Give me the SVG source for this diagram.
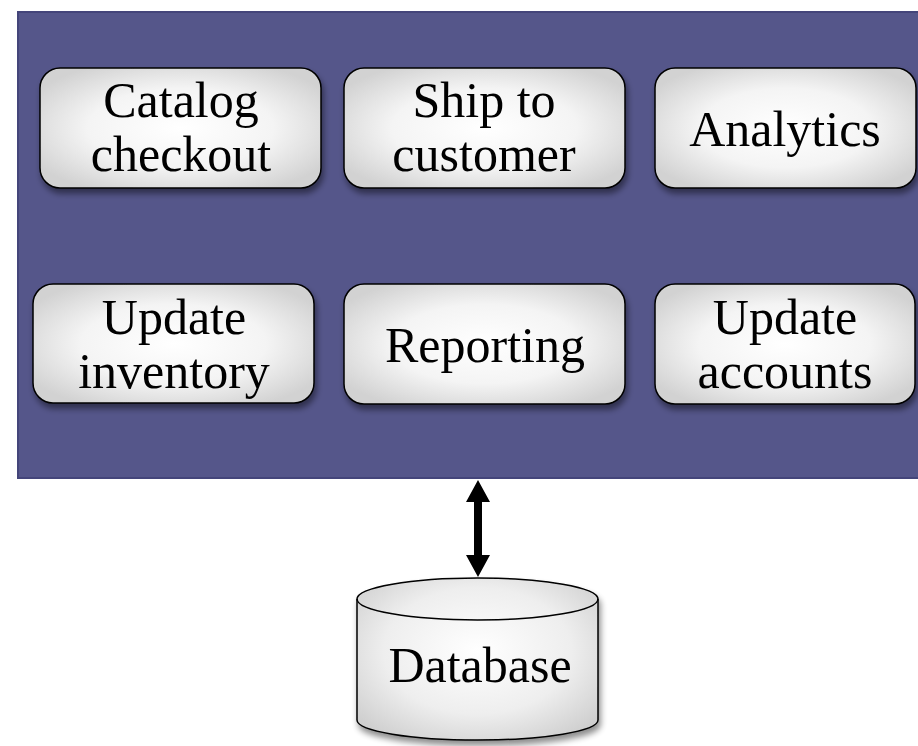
<svg xmlns="http://www.w3.org/2000/svg" width="918" height="746" viewBox="0 0 918 746">
<defs>
  <radialGradient id="boxGrad" cx="50%" cy="50%" r="60%">
    <stop offset="0" stop-color="#ffffff"/>
    <stop offset="0.55" stop-color="#f4f4f4"/>
    <stop offset="1" stop-color="#d2d2d2"/>
  </radialGradient>
  <radialGradient id="cylGrad" cx="50%" cy="45%" r="65%">
    <stop offset="0" stop-color="#ffffff"/>
    <stop offset="0.6" stop-color="#eeeeee"/>
    <stop offset="1" stop-color="#cfcfcf"/>
  </radialGradient>
  <filter id="shadow" x="-10%" y="-10%" width="125%" height="135%">
    <feGaussianBlur in="SourceAlpha" stdDeviation="3"/>
    <feOffset dx="2" dy="5" result="b"/>
    <feComponentTransfer><feFuncA type="linear" slope="0.45"/></feComponentTransfer>
    <feMerge><feMergeNode/><feMergeNode in="SourceGraphic"/></feMerge>
  </filter>
</defs>
<style>
  .box { fill: url(#boxGrad); stroke: #000; stroke-width: 1.5; }
  .lbl { font-family: "Liberation Serif", "Times New Roman", serif; font-size: 50px; fill: #000; text-anchor: middle; }
</style>

<g id="container">
  <rect x="18" y="12" width="920" height="466" fill="#55568a" stroke="#44457a" stroke-width="2"/>
</g>

<g id="catalog-checkout" filter="url(#shadow)">
  <rect class="box" x="40" y="68" width="281" height="120" rx="20"/>
  <text class="lbl" x="181" y="117">Catalog</text>
  <text class="lbl" x="181" y="171">checkout</text>
</g>
<g id="ship-to-customer" filter="url(#shadow)">
  <rect class="box" x="344" y="68" width="281" height="120" rx="20"/>
  <text class="lbl" x="484" y="117">Ship to</text>
  <text class="lbl" x="484" y="171">customer</text>
</g>
<g id="analytics" filter="url(#shadow)">
  <rect class="box" x="655" y="68" width="261" height="120" rx="20"/>
  <text class="lbl" x="785" y="146">Analytics</text>
</g>
<g id="update-inventory" filter="url(#shadow)">
  <rect class="box" x="33" y="284" width="281" height="119" rx="20"/>
  <text class="lbl" x="174" y="334">Update</text>
  <text class="lbl" x="174" y="388">inventory</text>
</g>
<g id="reporting" filter="url(#shadow)">
  <rect class="box" x="344" y="284" width="281" height="120" rx="20"/>
  <text class="lbl" x="485" y="362">Reporting</text>
</g>
<g id="update-accounts" filter="url(#shadow)">
  <rect class="box" x="655" y="284" width="260" height="120" rx="20"/>
  <text class="lbl" x="785" y="334">Update</text>
  <text class="lbl" x="785" y="388">accounts</text>
</g>

<g id="database" filter="url(#shadow)">
  <path d="M357,599 L357,720 A120.5,20 0 0 0 598,720 L598,599 A120.5,21 0 0 0 357,599 Z" fill="url(#cylGrad)" stroke="#000" stroke-width="1.5"/>
  <path d="M357,599 A120.5,21 0 0 0 598,599" fill="none" stroke="#000" stroke-width="1.5"/>
  <text class="lbl" x="480" y="682">Database</text>
</g>

<g id="connectors">
  <path d="M478,480 L490,502 L482,502 L482,555 L490,555 L478,577 L466,555 L474,555 L474,502 L466,502 Z" fill="#000"/>
</g>
</svg>
